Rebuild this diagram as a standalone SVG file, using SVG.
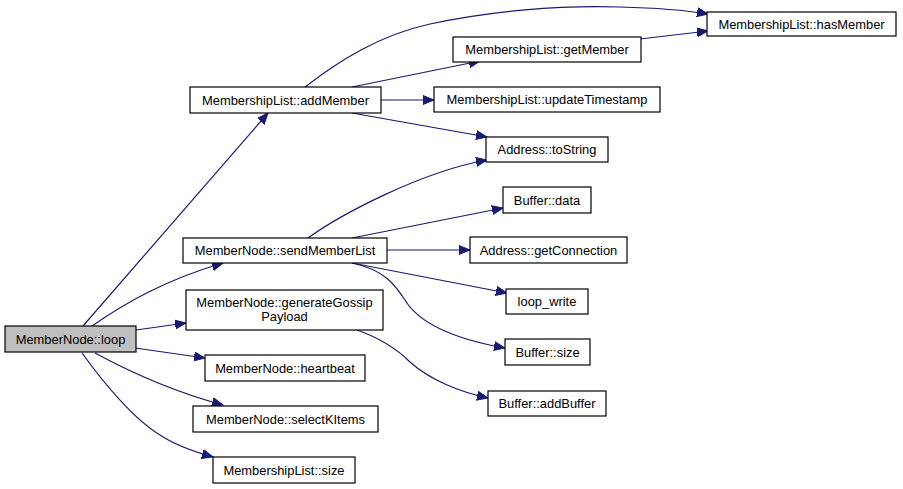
<svg xmlns="http://www.w3.org/2000/svg" width="903" height="489" viewBox="0 0 903 489">
<style>
.n rect{fill:#fff;stroke:#000;stroke-width:1.2}
.n text{font-family:"Liberation Sans",Arial,sans-serif;font-size:12.9px;fill:#000;text-anchor:middle}
.e path{fill:none;stroke:#191970;stroke-width:1.2;marker-end:url(#ah)}
</style>
<defs>
<marker id="ah" markerUnits="userSpaceOnUse" markerWidth="12" markerHeight="10" refX="11" refY="4.5" orient="auto" viewBox="0 0 12 9">
<path d="M0,0 L11,4.5 L0,9 Z" fill="#191970" stroke="#191970" stroke-width="1"/>
</marker>
</defs>
<rect width="903" height="489" fill="#fff"/>
<g id="connectors" class="e">
<path d="M83,326 L268,113"/>
<path d="M92,326 C125,303 165,280 223,263"/>
<path d="M136,330 L186,323"/>
<path d="M135,348 L205,358"/>
<path d="M95,353 C130,372 175,392 223,405"/>
<path d="M82,353 C105,385 135,420 160,435 C175,445 195,452 213,457"/>
<path d="M305,87 C340,60 380,35 430,24 C490,11 560,5 620,7 C660,8 690,11 708,14"/>
<path d="M352,87 L480,61"/>
<path d="M381,100 L434,100"/>
<path d="M352,113 L487,137"/>
<path d="M640,39 L708,31"/>
<path d="M308,238 C340,215 420,172 487,160"/>
<path d="M352,238 L503,208"/>
<path d="M387,250 L470,250"/>
<path d="M352,263 L507,293"/>
<path d="M352,263 C385,270 395,285 405,300 C420,325 460,340 505,348"/>
<path d="M357,330 C385,340 400,352 410,362 C430,380 460,392 488,398"/>
</g>
<g id="loop" class="n"><rect x="5" y="326" width="131" height="26" style="fill:#bfbfbf"/><text x="70.5" y="343.5">MemberNode::loop</text></g>
<g id="addMember" class="n"><rect x="190" y="87" width="191" height="26"/><text x="285.5" y="104.5">MembershipList::addMember</text></g>
<g id="getMember" class="n"><rect x="453" y="37" width="188" height="25"/><text x="547" y="54">MembershipList::getMember</text></g>
<g id="hasMember" class="n"><rect x="707" y="12" width="189" height="24"/><text x="801.5" y="28.5">MembershipList::hasMember</text></g>
<g id="updateTimestamp" class="n"><rect x="434" y="87" width="226" height="25"/><text x="547" y="104">MembershipList::updateTimestamp</text></g>
<g id="toString" class="n"><rect x="486" y="137" width="122" height="25"/><text x="547" y="154">Address::toString</text></g>
<g id="bufferData" class="n"><rect x="503" y="187" width="88" height="26"/><text x="547" y="204.5">Buffer::data</text></g>
<g id="getConnection" class="n"><rect x="470" y="237" width="157" height="26"/><text x="548.5" y="254.5">Address::getConnection</text></g>
<g id="loopWrite" class="n"><rect x="506" y="289" width="82" height="25"/><text x="547" y="306">loop_write</text></g>
<g id="bufferSize" class="n"><rect x="505" y="339" width="85" height="26"/><text x="547.5" y="356.5">Buffer::size</text></g>
<g id="addBuffer" class="n"><rect x="488" y="391" width="118" height="25"/><text x="547" y="408">Buffer::addBuffer</text></g>
<g id="sendMemberList" class="n"><rect x="183" y="238" width="204" height="25"/><text x="285" y="255">MemberNode::sendMemberList</text></g>
<g id="generateGossipPayload" class="n"><rect x="186" y="290" width="197" height="40"/><text x="284.5" y="306.5">MemberNode::generateGossip</text><text x="284.5" y="320.5">Payload</text></g>
<g id="heartbeat" class="n"><rect x="205" y="355" width="160" height="26"/><text x="285" y="372.5">MemberNode::heartbeat</text></g>
<g id="selectKItems" class="n"><rect x="193" y="406" width="185" height="26"/><text x="285.5" y="423.5">MemberNode::selectKItems</text></g>
<g id="mlSize" class="n"><rect x="213" y="457" width="142" height="26"/><text x="284" y="474.5">MembershipList::size</text></g>
</svg>
